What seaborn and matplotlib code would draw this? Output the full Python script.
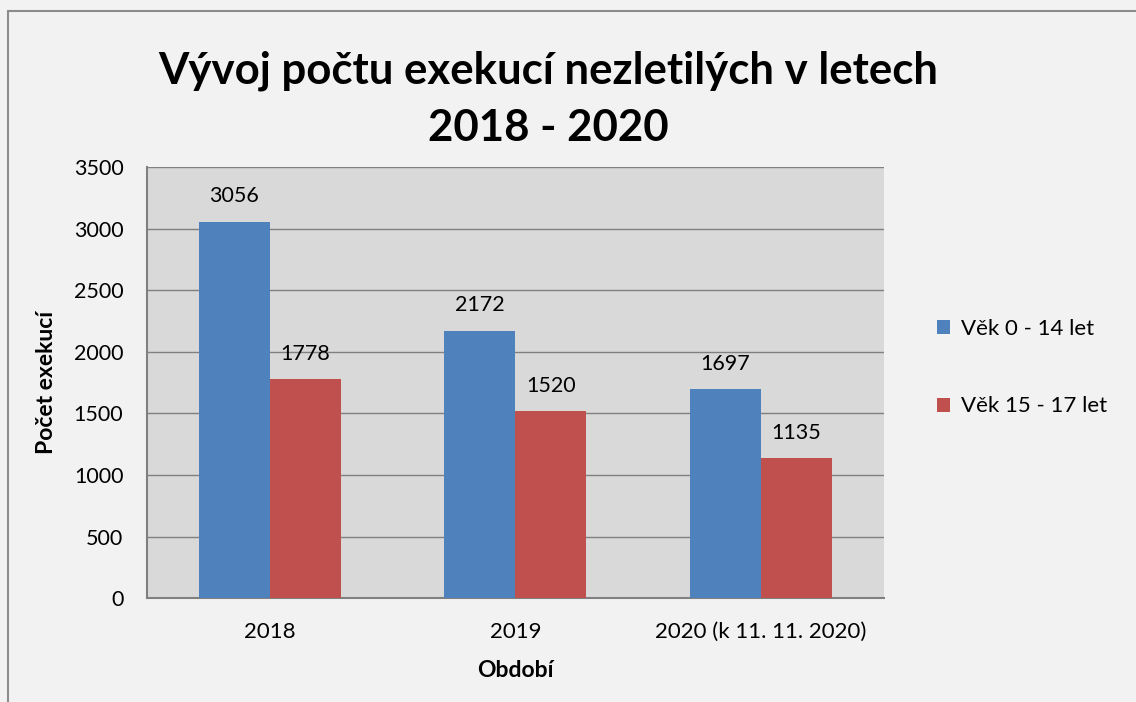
import matplotlib.pyplot as plt
import matplotlib.patches as mpatches
import pandas as pd
import seaborn as sns

periods = ["2018", "2019", "2020 (k 11. 11. 2020)"]
series = ["Věk 0 - 14 let", "Věk 15 - 17 let"]
age_0_14 = [3056, 2172, 1697]
age_15_17 = [1778, 1520, 1135]
colors = ["#4f81bd", "#c0504d"]

df = pd.DataFrame({
    "Období": periods * 2,
    "Počet exekucí": age_0_14 + age_15_17,
    "Skupina": [series[0]] * 3 + [series[1]] * 3,
})

sns.set_style("white")
plt.rcParams["font.family"] = ["Lato", "DejaVu Sans"]
plt.rcParams["text.color"] = "black"
plt.rcParams["xtick.color"] = "black"
plt.rcParams["ytick.color"] = "black"
plt.rcParams["axes.labelcolor"] = "black"

fig = plt.figure(figsize=(11.36, 7.02), dpi=100, facecolor="#f2f2f2")
ax = fig.add_axes([0.1294, 0.148, 0.6486, 0.614])
ax.set_facecolor("#d9d9d9")

sns.barplot(data=df, x="Období", y="Počet exekucí", hue="Skupina",
            palette=colors, width=0.578, saturation=1, linewidth=0,
            ax=ax, zorder=3)

for cont in ax.containers:
    ax.bar_label(cont, padding=11, fontsize=15.5)

ax.set_ylim(0, 3500)
ax.set_yticks(range(0, 3501, 500))
ax.yaxis.grid(True, color="#808080", linewidth=1, zorder=0)
ax.set_axisbelow(True)
for side in ["top", "right"]:
    ax.spines[side].set_visible(False)
for side in ["left", "bottom"]:
    ax.spines[side].set_color("#808080")
    ax.spines[side].set_linewidth(1.5)
ax.tick_params(axis="y", labelsize=15.5, length=0, pad=17)
ax.tick_params(axis="x", labelsize=16, length=0, pad=17)
ax.set_xlabel("Období", fontsize=16.5, fontweight="bold", labelpad=13)
ax.set_ylabel("Počet exekucí", fontsize=16.5, fontweight="bold", labelpad=12)

ax.legend(loc="center left", bbox_to_anchor=(1.045, 0.535), frameon=False,
          fontsize=16, handlelength=0.6, handleheight=0.6, labelspacing=2.6,
          handletextpad=0.5)

fig.suptitle("Vývoj počtu exekucí nezletilých v letech\n2018 - 2020",
             x=0.483, y=0.928, fontsize=31.5, fontweight="bold", linespacing=1.5)

fig.patches.append(mpatches.Rectangle((0.007, -0.01), 1.0, 0.995,
                                      transform=fig.transFigure, fill=False,
                                      edgecolor="#8c8c8c", linewidth=1.5))

fig.savefig("out.png", dpi=100, facecolor=fig.get_facecolor())
